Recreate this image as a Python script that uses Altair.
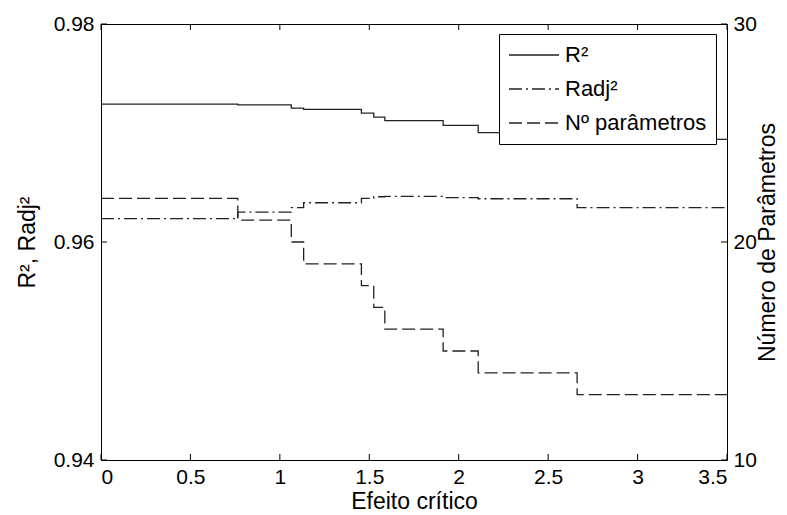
import altair as alt
import pandas as pd

# ---- data ----
x_steps = [0, 0.765, 1.064, 1.133, 1.456, 1.525, 1.587, 1.913, 2.109, 2.662, 3.5]
r2 = [0.97265, 0.97258, 0.97228, 0.97217, 0.97183, 0.97146, 0.97113, 0.9707, 0.97003, 0.96941, 0.96941]
radj = [0.96214, 0.96274, 0.96315, 0.9636, 0.964, 0.96415, 0.96418, 0.96408, 0.96397, 0.96315, 0.96315]
n_params = [22, 21, 20, 19, 18, 17, 16, 15, 14, 13, 13]

x_ticks = [0, 0.5, 1, 1.5, 2, 2.5, 3, 3.5]
left_ticks = [0.94, 0.96, 0.98]
right_ticks = [10, 20, 30]
series = ["R²", "Radj²", "Nº parâmetros"]

W, H = 626, 436
FONT = "Liberation Sans"
INK = "#222222"

left_df = pd.DataFrame(
    {"x": x_steps * 2, "v": r2 + radj, "serie": [series[0]] * len(x_steps) + [series[1]] * len(x_steps)}
)
right_df = pd.DataFrame({"x": x_steps, "v": n_params, "serie": series[2]})

xscale = alt.Scale(domain=[0, 3.5], nice=False, zero=False)
yl_scale = alt.Scale(domain=[0.94, 0.98], nice=False, zero=False)
yr_scale = alt.Scale(domain=[10, 30], nice=False, zero=False)
dash_scale = alt.Scale(domain=series, range=[[1, 0], [13, 4, 2, 4], [13, 5]])

legend = alt.Legend(
    title=None,
    orient="none",
    legendX=398,
    legendY=10,
    direction="vertical",
    fillColor="white",
    strokeColor="black",
    padding=9,
    symbolType="stroke",
    symbolSize=2500,
    symbolStrokeWidth=1.3,
    symbolStrokeColor=INK,
    labelFont=FONT,
    labelFontSize=22,
    labelColor="black",
    labelOffset=5,
    labelLimit=400,
    clipHeight=24,
    rowPadding=10,
)

x_axis = alt.Axis(values=x_ticks, format="~g", title="Efeito crítico", labelPadding=6,
                  orient="bottom", titleY=48, titleBaseline="alphabetic", titleFontSize=23)
yl_axis = alt.Axis(values=left_ticks, format="~g", title="R², Radj²", orient="left",
                   labelPadding=7, titlePadding=14)
yr_axis = alt.Axis(values=right_ticks, format="~g", title="Número de Parâmetros", orient="right",
                   labelPadding=6, titlePadding=23, titleAngle=270)

lines_left = alt.Chart(left_df).mark_line(interpolate="step-after", color=INK, strokeWidth=1.3).encode(
    x=alt.X("x:Q", scale=xscale, axis=x_axis),
    y=alt.Y("v:Q", scale=yl_scale, axis=yl_axis),
    strokeDash=alt.StrokeDash("serie:N", scale=dash_scale, legend=legend),
)

left_tick_marks = alt.Chart(pd.DataFrame({"v": left_ticks})).mark_rule(color="black").encode(
    y=alt.Y("v:Q", scale=yl_scale, axis=yl_axis),
    x=alt.value(0), x2=alt.value(6),
)
top_tick_marks = alt.Chart(pd.DataFrame({"x": x_ticks})).mark_rule(color="black").encode(
    x=alt.X("x:Q", scale=xscale, axis=x_axis),
    y=alt.value(0), y2=alt.value(6),
)
bottom_tick_marks = alt.Chart(pd.DataFrame({"x": x_ticks})).mark_rule(color="black").encode(
    x=alt.X("x:Q", scale=xscale, axis=x_axis),
    y=alt.value(H - 6), y2=alt.value(H),
)

line_right = alt.Chart(right_df).mark_line(interpolate="step-after", color=INK, strokeWidth=1.3).encode(
    x=alt.X("x:Q", scale=xscale, axis=x_axis),
    y=alt.Y("v:Q", scale=yr_scale, axis=yr_axis),
    strokeDash=alt.StrokeDash("serie:N", scale=dash_scale, legend=legend),
)
right_tick_marks = alt.Chart(pd.DataFrame({"v": right_ticks})).mark_rule(color="black").encode(
    y=alt.Y("v:Q", scale=yr_scale, axis=yr_axis),
    x=alt.value(W - 6), x2=alt.value(W),
)

left = alt.layer(lines_left, left_tick_marks, top_tick_marks, bottom_tick_marks)
right = alt.layer(line_right, right_tick_marks)

chart = (
    alt.layer(left, right)
    .resolve_scale(y="independent")
    .properties(
        width=W,
        height=H,
        autosize=alt.AutoSizeParams(type="none"),
        padding={"left": 93, "top": 16, "right": 52, "bottom": 54},
        background="white",
    )
    .configure_view(stroke="black", strokeWidth=1)
    .configure_axis(
        labelFont=FONT, labelFontSize=21, labelColor="black",
        titleFont=FONT, titleFontSize=23, titleFontWeight="normal", titleColor="black",
        grid=False, domain=False, ticks=False,
    )
)

chart.save("out.html", embed_options={"renderer": "svg", "actions": False})
